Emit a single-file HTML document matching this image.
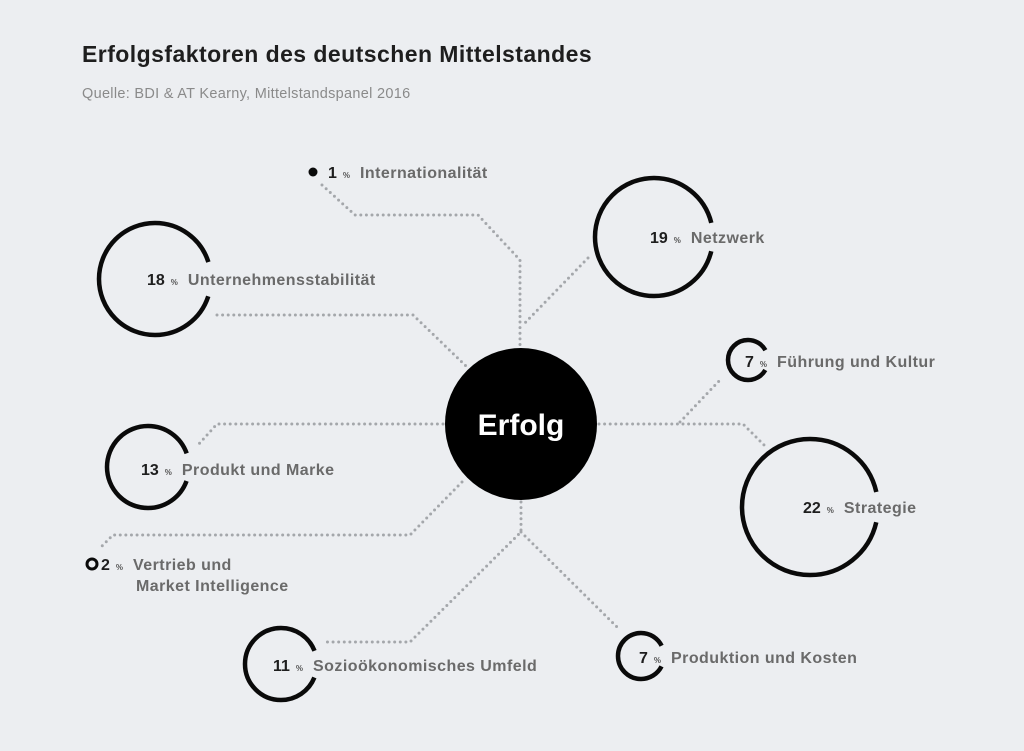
<!DOCTYPE html>
<html><head><meta charset="utf-8"><style>
html,body{margin:0;padding:0;background:#eceef1;}
svg{display:block}
text{font-family:"Liberation Sans",Arial,sans-serif;}
.n{font-weight:bold;font-size:16px;fill:#1e1e1e}
.p{font-weight:bold;font-size:8px;fill:#555}
.l{font-weight:bold;font-size:16px;fill:#6a6a6a;letter-spacing:0.45px}
.d{fill:none;stroke:#a4a7ab;stroke-width:3;stroke-dasharray:0 5.6;stroke-linecap:round}
.c{fill:none;stroke:#0a0a0a;stroke-width:4.5}
</style></head><body>
<svg width="1024" height="751" viewBox="0 0 1024 751" xmlns="http://www.w3.org/2000/svg">
<rect width="1024" height="751" fill="#eceef1"/>
<text x="82" y="62" style="font-weight:bold;font-size:23px;fill:#1e1e1e;letter-spacing:0.45px">Erfolgsfaktoren des deutschen Mittelstandes</text>
<text x="82" y="98" style="font-size:14.5px;fill:#8a8a8a;letter-spacing:0.3px">Quelle: BDI &amp; AT Kearny, Mittelstandspanel 2016</text>

<path class="d" d="M322 185 L355 215 L478 215 L520 260 L520 346"/>
<path class="d" d="M217 315 L413 315 L466 366"/>
<path class="d" d="M588 258 L522 326"/>
<path class="d" d="M599 424 L743 424 L766 447"/>
<path class="d" d="M680 422 L720 380"/>
<path class="d" d="M443 424 L217 424 L198 445"/>
<path class="d" d="M462 482 L410 535 L113 535 L99 549"/>
<path class="d" d="M521 502 L521 532 L410 642 L322 642"/>
<path class="d" d="M521 532 L617 627"/>

<circle cx="521" cy="424" r="76" fill="#000"/>
<text x="521" y="435" text-anchor="middle" style="font-weight:bold;font-size:30px;fill:#fff">Erfolg</text>

<circle class="c" cx="155" cy="279" r="56" stroke-dasharray="0 17.6 316.7 17.6"/>
<circle class="c" cx="654" cy="237" r="59" stroke-dasharray="0 14.4 341.9 14.4"/>
<circle class="c" cx="748" cy="360" r="20" stroke-dasharray="0 10.5 104.7 10.5"/>
<circle class="c" cx="810" cy="507" r="68" stroke-dasharray="0 15.4 396.5 15.4"/>
<circle class="c" cx="148" cy="467" r="41" stroke-dasharray="0 14.3 229 14.3"/>
<circle class="c" cx="281" cy="664" r="36" stroke-dasharray="0 13.8 198.6 13.8"/>
<circle class="c" cx="641" cy="656" r="23" stroke-dasharray="0 10.8 122.9 10.8"/>
<circle cx="313" cy="172" r="4.5" fill="#0a0a0a"/>
<circle cx="92" cy="564" r="5" fill="none" stroke="#0a0a0a" stroke-width="3"/>

<text x="328" y="178"><tspan class="n">1</tspan><tspan class="p" dx="6">%</tspan><tspan class="l" dx="10">Internationalität</tspan></text>
<text x="147" y="285"><tspan class="n">18</tspan><tspan class="p" dx="6">%</tspan><tspan class="l" dx="10">Unternehmensstabilität</tspan></text>
<text x="650" y="243"><tspan class="n">19</tspan><tspan class="p" dx="6">%</tspan><tspan class="l" dx="10">Netzwerk</tspan></text>
<text x="745" y="367"><tspan class="n">7</tspan><tspan class="p" dx="6">%</tspan><tspan class="l" dx="10">Führung und Kultur</tspan></text>
<text x="803" y="513"><tspan class="n">22</tspan><tspan class="p" dx="6">%</tspan><tspan class="l" dx="10">Strategie</tspan></text>
<text x="141" y="475"><tspan class="n">13</tspan><tspan class="p" dx="6">%</tspan><tspan class="l" dx="10">Produkt und Marke</tspan></text>
<text x="101" y="570"><tspan class="n">2</tspan><tspan class="p" dx="6">%</tspan><tspan class="l" dx="10">Vertrieb und</tspan></text>
<text x="136" y="591" class="l">Market Intelligence</text>
<text x="273" y="671"><tspan class="n">11</tspan><tspan class="p" dx="6">%</tspan><tspan class="l" dx="10">Sozioökonomisches Umfeld</tspan></text>
<text x="639" y="663"><tspan class="n">7</tspan><tspan class="p" dx="6">%</tspan><tspan class="l" dx="10">Produktion und Kosten</tspan></text>
</svg>
</body></html>
